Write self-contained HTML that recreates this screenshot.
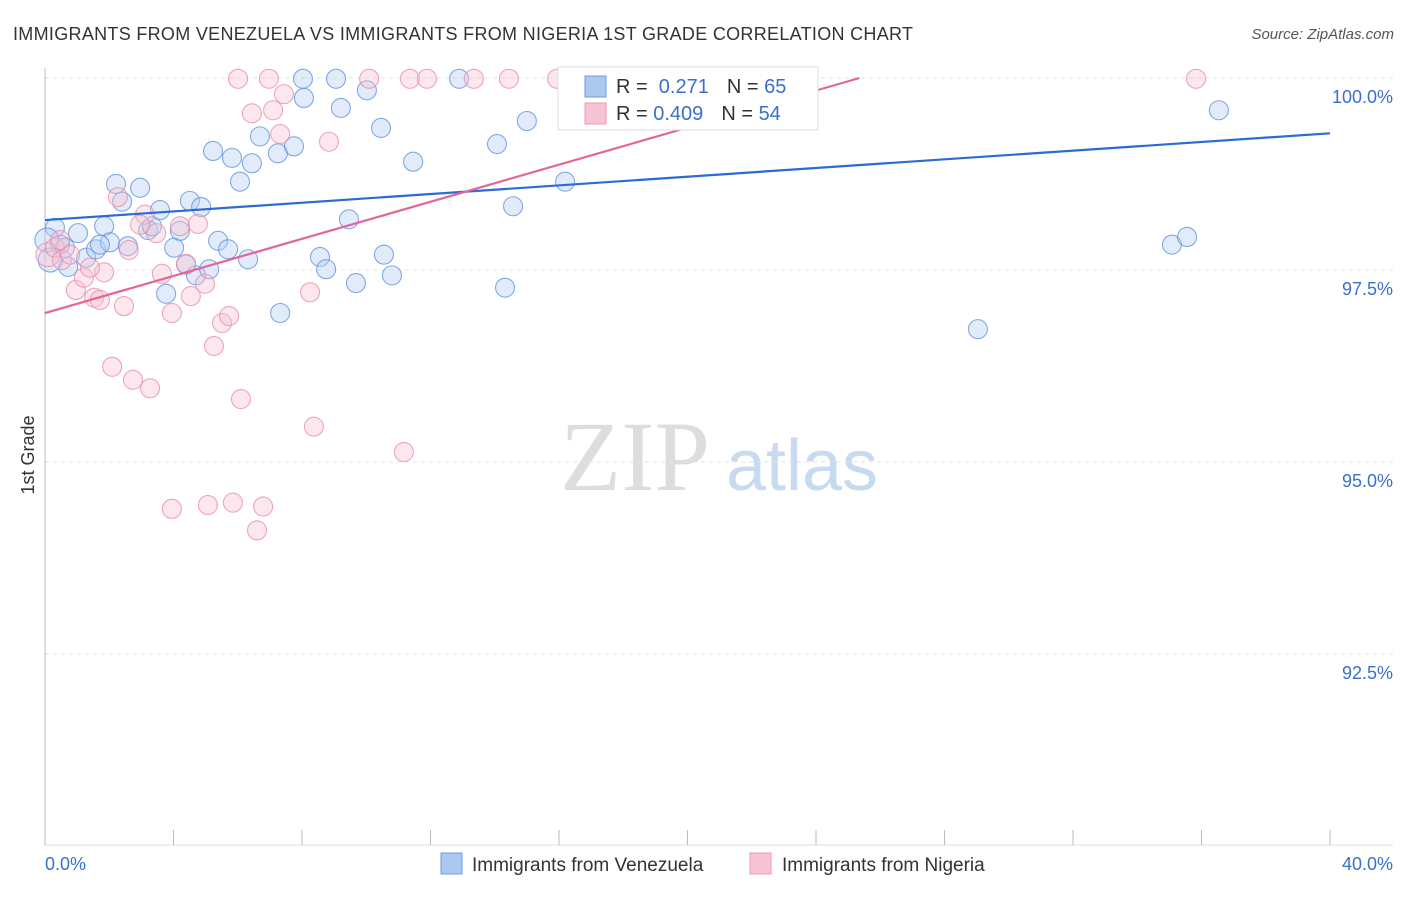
<!DOCTYPE html>
<html><head><meta charset="utf-8"><style>
body{margin:0;background:#fff;font-family:"Liberation Sans",sans-serif}
</style></head><body>
<svg id="c" width="1406" height="892" font-family="Liberation Sans, sans-serif">
<text x="13" y="40" font-size="18" fill="#333" textLength="900">IMMIGRANTS FROM VENEZUELA VS IMMIGRANTS FROM NIGERIA 1ST GRADE CORRELATION CHART</text>
<text x="1394" y="39" font-size="15" fill="#555" font-style="italic" text-anchor="end">Source: ZipAtlas.com</text>
<text transform="translate(34,455) rotate(-90)" font-size="18" fill="#333" text-anchor="middle">1st Grade</text>
<g><text x="635" y="490" font-size="100" fill="#ddd" style="font-family:'Liberation Serif',serif" text-anchor="middle">ZIP</text><text x="802" y="490" font-size="72" fill="#c8daf0" text-anchor="middle">atlas</text></g>
<g id="grid"></g><g id="pts"></g><g id="lines"></g>
<g>
<rect x="558" y="67" width="260" height="63" fill="#fff" stroke="#ddd"/>
<rect x="585" y="76" width="21" height="21" fill="#aac8f0" stroke="#6d9be0"/>
<rect x="585" y="103" width="21" height="21" fill="#f8c4d4" stroke="#ec9ab4"/>
<text x="616" y="93" font-size="20" fill="#333">R = <tspan fill="#3a6fd0">&#160;0.271</tspan><tspan dx="18">N = </tspan><tspan fill="#3a6fd0">65</tspan></text>
<text x="616" y="120" font-size="20" fill="#333">R = <tspan fill="#3a6fd0">0.409</tspan><tspan dx="18">N = </tspan><tspan fill="#3a6fd0">54</tspan></text>
</g>
<g>
<rect x="441" y="853" width="21" height="21" fill="#aac8f0" stroke="#6d9be0"/>
<text x="472" y="871" font-size="19" fill="#333">Immigrants from Venezuela</text>
<rect x="750" y="853" width="21" height="21" fill="#f8c4d4" stroke="#ec9ab4"/>
<text x="782" y="871" font-size="19" fill="#333">Immigrants from Nigeria</text>
</g>
<text x="45" y="870" font-size="18" fill="#3a6fd0">0.0%</text>
<text x="1393" y="870" font-size="18" fill="#3a6fd0" text-anchor="end">40.0%</text>
</svg>
<script>
const yTicks=[100,97.5,95,92.5];
const yTickLabels=["100.0%","97.5%","95.0%","92.5%"];
const xTicks=[0,4,8,12,16,20,24,28,32,36,40];
const venX=[.31,.47,.72,1.03,1.28,1.59,1.84,2.02,2.21,2.40,2.58,2.96,3.21,3.33,3.58,3.77,4.02,4.20,4.39,4.51,4.70,4.86,5.11,5.23,5.39,5.70,5.82,6.07,6.32,6.44,6.69,7.25,7.32,7.75,8.03,8.06,8.56,8.75,9.06,9.21,9.46,9.68,10.02,10.46,10.55,10.80,11.46,12.89,14.07,14.32,14.57,15.00,16.19,17.21,21.32,21.95,29.04,35.08,35.55,36.54,.06,.16,.62,1.71];
const venY=[98.05,97.83,97.54,97.98,97.66,97.77,98.07,97.86,98.62,98.39,97.81,98.57,98.02,98.07,98.28,97.19,97.79,98.01,97.57,98.40,97.43,98.32,97.51,99.05,97.88,97.77,98.96,98.65,97.64,98.89,99.24,99.02,96.94,99.11,99.99,99.74,97.67,97.51,99.99,99.61,98.16,97.33,99.84,99.35,97.70,97.43,98.91,99.99,99.14,97.27,98.33,99.44,98.65,99.99,99.99,99.99,96.73,97.83,97.93,99.58,97.89,97.63,97.79,97.83];
const nigX=[.09,.31,.53,.96,1.21,1.53,1.71,1.84,2.09,2.27,2.46,2.61,2.74,3.11,3.27,3.46,3.64,3.95,3.95,4.20,4.39,4.54,4.76,4.98,5.07,5.26,5.51,5.73,5.85,6.01,6.10,6.44,6.60,6.79,6.97,7.10,7.32,7.44,8.25,8.37,8.84,10.09,11.17,11.36,11.89,13.35,14.44,15.94,16.59,35.83,.78,.47,2.96,1.40];
const nigY=[97.70,97.79,97.63,97.24,97.40,97.14,97.11,97.47,96.24,98.45,97.03,97.76,96.07,98.22,95.96,97.98,97.45,96.94,94.39,98.07,97.58,97.16,98.10,97.32,94.44,96.51,96.81,96.90,94.47,99.99,95.82,99.54,94.11,94.42,99.99,99.58,99.27,99.79,97.21,95.46,99.17,99.99,95.13,99.99,99.99,99.99,99.99,99.99,99.99,99.99,97.70,97.89,98.09,97.53];
const venTrend=[98.15,99.28];
const nigTrend=[96.94,0.1207];
const NS="http://www.w3.org/2000/svg";
const X=v=>45+v/40*1285, Y=v=>78+(100-v)/2.5*192;
function mk(t,a,p){const e=document.createElementNS(NS,t);for(const k in a)e.setAttribute(k,a[k]);p.appendChild(e);return e;}
const g=document.getElementById('grid');
yTicks.forEach((t,i)=>{
 const l=mk('line',{x1:45,x2:1393,y1:Y(t),y2:Y(t),stroke:'#e2e2e2','stroke-dasharray':'4,4'},g);
 
 
 const tx=mk('text',{x:1393,y:Y(t)+25,'font-size':18,fill:'#3a6fd0','text-anchor':'end'},g);
 tx.textContent=yTickLabels[i];
 
 
});
const ax=mk('line',{x1:45,x2:45,y1:68,y2:845,stroke:'#bbb'},g);


const bx=mk('line',{x1:45,x2:1393,y1:845,y2:845,stroke:'#ddd'},g);


xTicks.forEach(t=>{
 const l=mk('line',{x1:X(t),x2:X(t),y1:830,y2:845,stroke:'#bbb'},g);
 
 
});
const p=document.getElementById('pts');
function dots(xs,ys,fill,stroke,name){
 xs.forEach((x,i)=>{
  const c=mk('circle',{cx:X(x),cy:Y(ys[i]),r:(x<0.2?12:9.5),fill:fill,'fill-opacity':0.4,stroke:stroke,'stroke-opacity':0.75,'stroke-width':1.1},p);
  
  
 });
}
dots(venX,venY,'#b3cdf2','#5b8fdc','venezuela-point');
dots(nigX,nigY,'#f8c2d3','#e889a8','nigeria-point');
const L=document.getElementById('lines');
const bl=mk('line',{x1:X(0),y1:Y(venTrend[0]),x2:X(40),y2:Y(venTrend[1]),stroke:'#2a6bd6','stroke-width':2.2},L);


const xe=(100-nigTrend[0])/nigTrend[1];
const pl=mk('line',{x1:X(0),y1:Y(nigTrend[0]),x2:X(xe),y2:Y(100),stroke:'#e3659a','stroke-width':2.2},L);


</script>
</body></html>
